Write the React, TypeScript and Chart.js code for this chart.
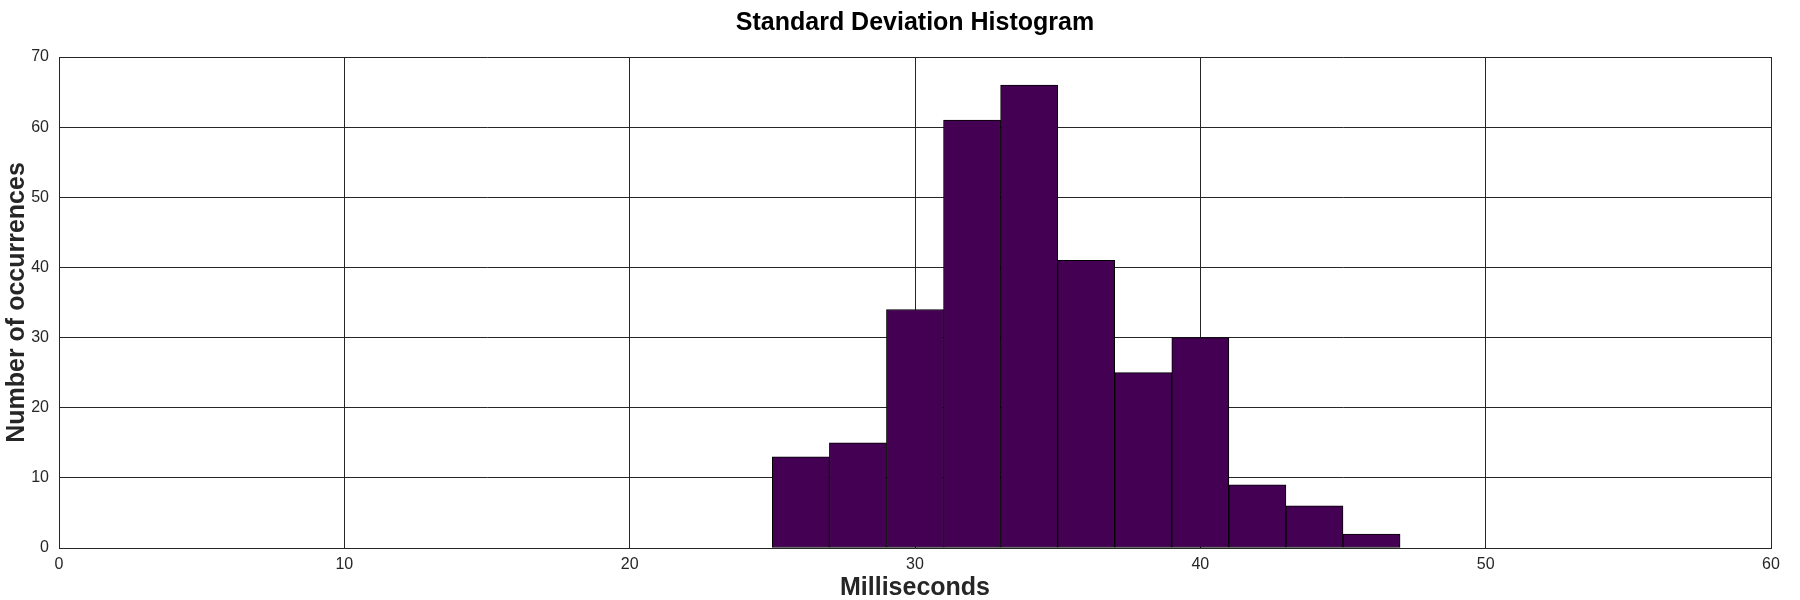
import { useEffect, useRef } from "react"
import { Chart, registerables } from "chart.js"

Chart.register(...registerables)

// histogram bins (left edge of each bin) and the counts
const binStarts = [25, 27, 29, 31, 33, 35, 37, 39, 41, 43, 45]
const binWidth = 2
const counts = [13, 15, 34, 61, 66, 41, 25, 30, 9, 6, 2]

// axis ticks
const xTicks = [0, 10, 20, 30, 40, 50, 60]
const yTicks = [0, 10, 20, 30, 40, 50, 60, 70]

const FONT = "'Liberation Sans', Arial, Helvetica, sans-serif"
const AXIS_COLOR = "#262626"

export default function App() {
  const canvasRef = useRef<HTMLCanvasElement>(null)
  const chartRef = useRef<Chart | null>(null)

  useEffect(() => {
    if (!canvasRef.current) return
    if (chartRef.current) chartRef.current.destroy()

    const ctx = canvasRef.current.getContext("2d")
    if (!ctx) return

    const points = binStarts.map((start, i) => ({ x: start + binWidth / 2, y: counts[i] }))

    chartRef.current = new Chart(ctx, {
      type: "bar",
      data: {
        datasets: [
          {
            label: "Occurrences",
            data: points,
            backgroundColor: "#440154",
            borderColor: "#000000",
            borderWidth: 1,
            borderSkipped: false,
            barPercentage: 1,
            categoryPercentage: 1,
            grouped: false,
          },
        ],
      },
      options: {
        animation: false,
        responsive: true,
        maintainAspectRatio: false,
        layout: { padding: { left: 0, right: 29, top: 0, bottom: 0 } },
        font: { family: FONT },
        plugins: {
          legend: { display: false },
          tooltip: { enabled: false },
          title: {
            display: true,
            // centred over the plot area, not the whole canvas
            fullSize: false,
            text: "Standard Deviation Histogram",
            color: "#000000",
            font: { family: FONT, size: 25, weight: "bold", lineHeight: 1.2 },
            padding: { top: 8, bottom: 19 },
          },
        },
        scales: {
          x: {
            type: "linear",
            min: 0,
            max: 60,
            offset: false,
            afterBuildTicks: (scale: any) => {
              scale.ticks = xTicks.map((v) => ({ value: v }))
            },
            afterFit: (scale: any) => {
              scale.height = 52
            },
            grid: { color: AXIS_COLOR, lineWidth: 1, drawTicks: false, offset: false },
            border: { display: true, color: AXIS_COLOR, width: 1 },
            ticks: {
              color: AXIS_COLOR,
              font: { family: FONT, size: 16 },
              padding: 7,
              maxRotation: 0,
              autoSkip: false,
            },
            title: {
              display: true,
              text: "Milliseconds",
              color: AXIS_COLOR,
              font: { family: FONT, size: 25, weight: "bold", lineHeight: 0.94 },
              padding: { top: 0, bottom: 0 },
            },
          },
          y: {
            type: "linear",
            min: 0,
            max: 70,
            afterBuildTicks: (scale: any) => {
              scale.ticks = yTicks.map((v) => ({ value: v }))
            },
            afterFit: (scale: any) => {
              scale.width = 59
            },
            grid: { color: AXIS_COLOR, lineWidth: 1, drawTicks: false },
            border: { display: true, color: AXIS_COLOR, width: 1 },
            ticks: {
              color: AXIS_COLOR,
              font: { family: FONT, size: 16 },
              padding: 10,
              autoSkip: false,
            },
            title: {
              display: true,
              text: "Number of occurrences",
              color: AXIS_COLOR,
              font: { family: FONT, size: 25, weight: "bold", lineHeight: 1 },
              padding: { top: 5, bottom: 0 },
            },
          },
        },
      },
    })

    return () => {
      if (chartRef.current) {
        chartRef.current.destroy()
        chartRef.current = null
      }
    }
  }, [])

  return (
    <div style={{ position: "fixed", left: 0, top: 0, width: 1800, height: 600, background: "#ffffff" }}>
      <canvas ref={canvasRef} />
    </div>
  )
}
